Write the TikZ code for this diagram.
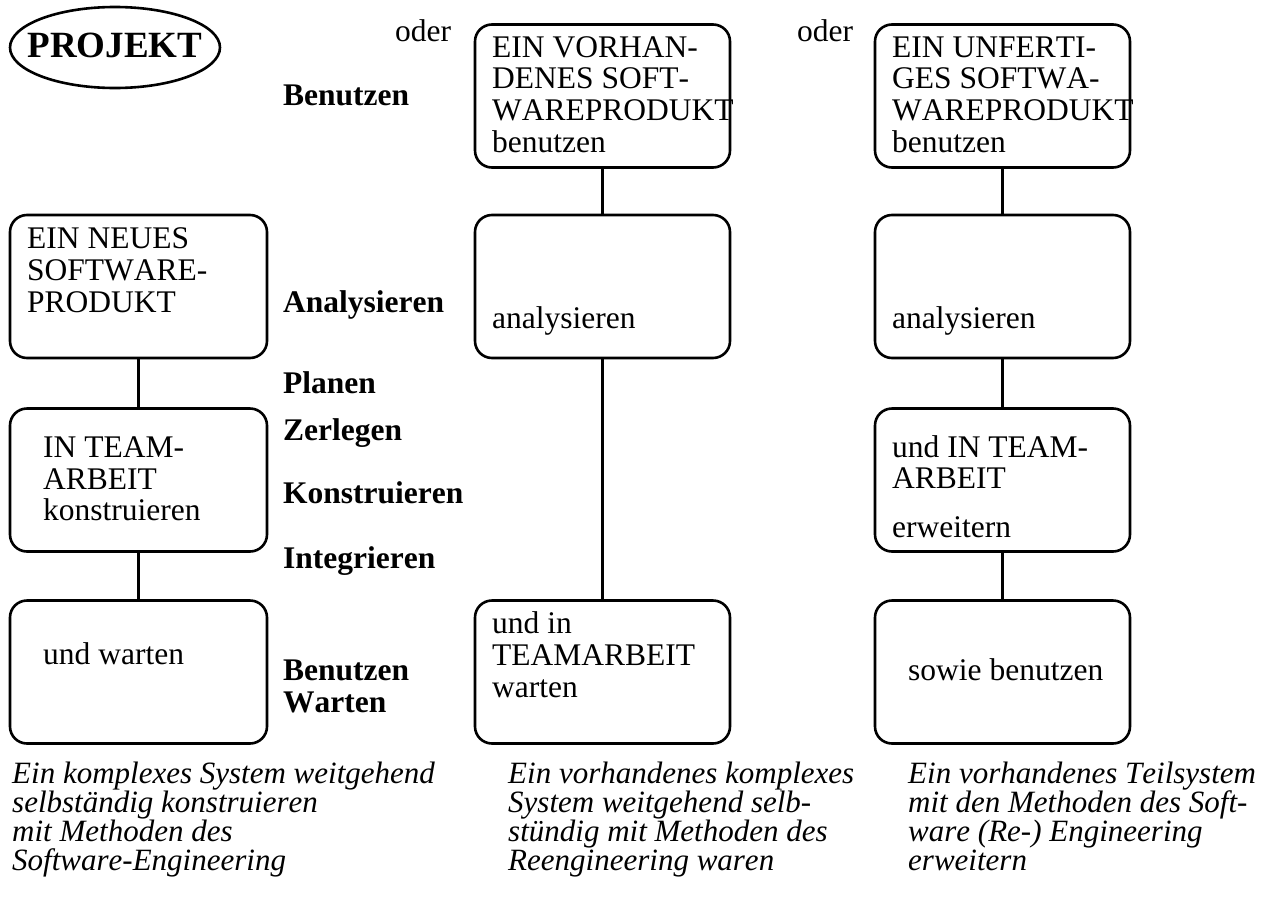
\documentclass[tikz,border=0pt]{standalone}
\usepackage{fontspec}
\setmainfont{Liberation Serif}[Kerning=Off]
\usetikzlibrary{shapes.geometric}
\begin{document}
\begin{tikzpicture}[x=1pt,y=-1pt,
  box/.style={draw, line width=2.6pt, rounded corners=17pt, inner sep=0pt,
              minimum height=143pt},
  wideL/.style={box, minimum width=257pt},
  wideR/.style={box, minimum width=255pt},
  link/.style={line width=2.2pt},
  txt/.style={anchor=base west, inner sep=0pt, font=\fontsize{31.5}{32}\selectfont},
  stage/.style={anchor=base west, inner sep=0pt, font=\fontsize{31.5}{32}\selectfont\bfseries},
  note/.style={anchor=base west, inner sep=0pt, font=\fontsize{31}{30}\selectfont\itshape}]
\useasboundingbox (0,0) rectangle (1276,897);

% title
\node[draw, ellipse, line width=2.6pt, minimum width=210pt, minimum height=81pt, inner sep=0pt]
  (proj) at (115,47.5) {};
\node[anchor=base, inner sep=0pt, font=\fontsize{37}{37}\selectfont\bfseries] (projt) at (115,57) {PROJEKT};
\node[txt] (oder1) at (395,41) {oder};
\node[txt] (oder2) at (797,41) {oder};

% activity column
\node[stage] (s1) at (283,105) {Benutzen};
\node[stage] (s2) at (283,312) {Analysieren};
\node[stage] (s3) at (283,393) {Planen};
\node[stage] (s4) at (283,440) {Zerlegen};
\node[stage] (s5) at (283,503) {Konstruieren};
\node[stage] (s6) at (283,568) {Integrieren};
\node[stage] (s7) at (283,680) {Benutzen};
\node[stage] (s8) at (283,712) {Warten};

% left column: new product
\node[wideL] (L1) at (138.5,286.5) {};
\node[wideL] (L2) at (138.5,480) {};
\node[wideL] (L3) at (138.5,672) {};
\node[txt] (L1a) at (27,248) {EIN NEUES};
\node[txt] (L1b) at (27,280) {SOFTWARE-};
\node[txt] (L1c) at (27,312) {PRODUKT};
\node[txt] (L2a) at (43,457) {IN TEAM-};
\node[txt] (L2b) at (43,489) {ARBEIT};
\node[txt] (L2c) at (43,520) {konstruieren};
\node[txt] (L3a) at (43,664) {und warten};
\draw[link] (L1.south) -- (L2.north);
\draw[link] (L2.south) -- (L3.north);

% middle column: existing product
\node[wideR] (M0) at (602.5,96) {};
\node[wideR] (M1) at (602.5,286.5) {};
\node[wideR] (M3) at (602.5,672) {};
\node[txt] (M0a) at (492,57) {EIN VORHAN-};
\node[txt] (M0b) at (492,88) {DENES SOFT-};
\node[txt] (M0c) at (492,120) {WAREPRODUKT};
\node[txt] (M0d) at (492,152) {benutzen};
\node[txt] (M1a) at (492,328) {analysieren};
\node[txt] (M3a) at (492,633) {und in};
\node[txt] (M3b) at (492,665) {TEAMARBEIT};
\node[txt] (M3c) at (492,697) {warten};
\draw[link] (M0.south) -- (M1.north);
\draw[link] (M1.south) -- (M3.north);

% right column: unfinished product
\node[wideR] (R0) at (1002.5,96) {};
\node[wideR] (R1) at (1002.5,286.5) {};
\node[wideR] (R2) at (1002.5,480) {};
\node[wideR] (R3) at (1002.5,672) {};
\node[txt] (R0a) at (892,57) {EIN UNFERTI-};
\node[txt] (R0b) at (892,88) {GES SOFTWA-};
\node[txt] (R0c) at (892,120) {WAREPRODUKT};
\node[txt] (R0d) at (892,152) {benutzen};
\node[txt] (R1a) at (892,328) {analysieren};
\node[txt] (R2a) at (892,457) {und IN TEAM-};
\node[txt] (R2b) at (892,488) {ARBEIT};
\node[txt] (R2c) at (892,537) {erweitern};
\node[txt] (R3a) at (908,680) {sowie benutzen};
\draw[link] (R0.south) -- (R1.north);
\draw[link] (R1.south) -- (R2.north);
\draw[link] (R2.south) -- (R3.north);

% captions
\node[note] (c1a) at (12,783) {Ein komplexes System weitgehend};
\node[note] (c1b) at (12,812) {selbständig konstruieren};
\node[note] (c1c) at (12,841) {mit Methoden des};
\node[note] (c1d) at (12,870) {Software-Engineering};
\node[note] (c2a) at (508,783) {Ein vorhandenes komplexes};
\node[note] (c2b) at (508,812) {System weitgehend selb-};
\node[note] (c2c) at (508,841) {stündig mit Methoden des};
\node[note] (c2d) at (508,870) {Reengineering waren};
\node[note] (c3a) at (908,783) {Ein vorhandenes Teilsystem};
\node[note] (c3b) at (908,812) {mit den Methoden des Soft-};
\node[note] (c3c) at (908,841) {ware (Re-) Engineering};
\node[note] (c3d) at (908,870) {erweitern};
\end{tikzpicture}
\end{document}
